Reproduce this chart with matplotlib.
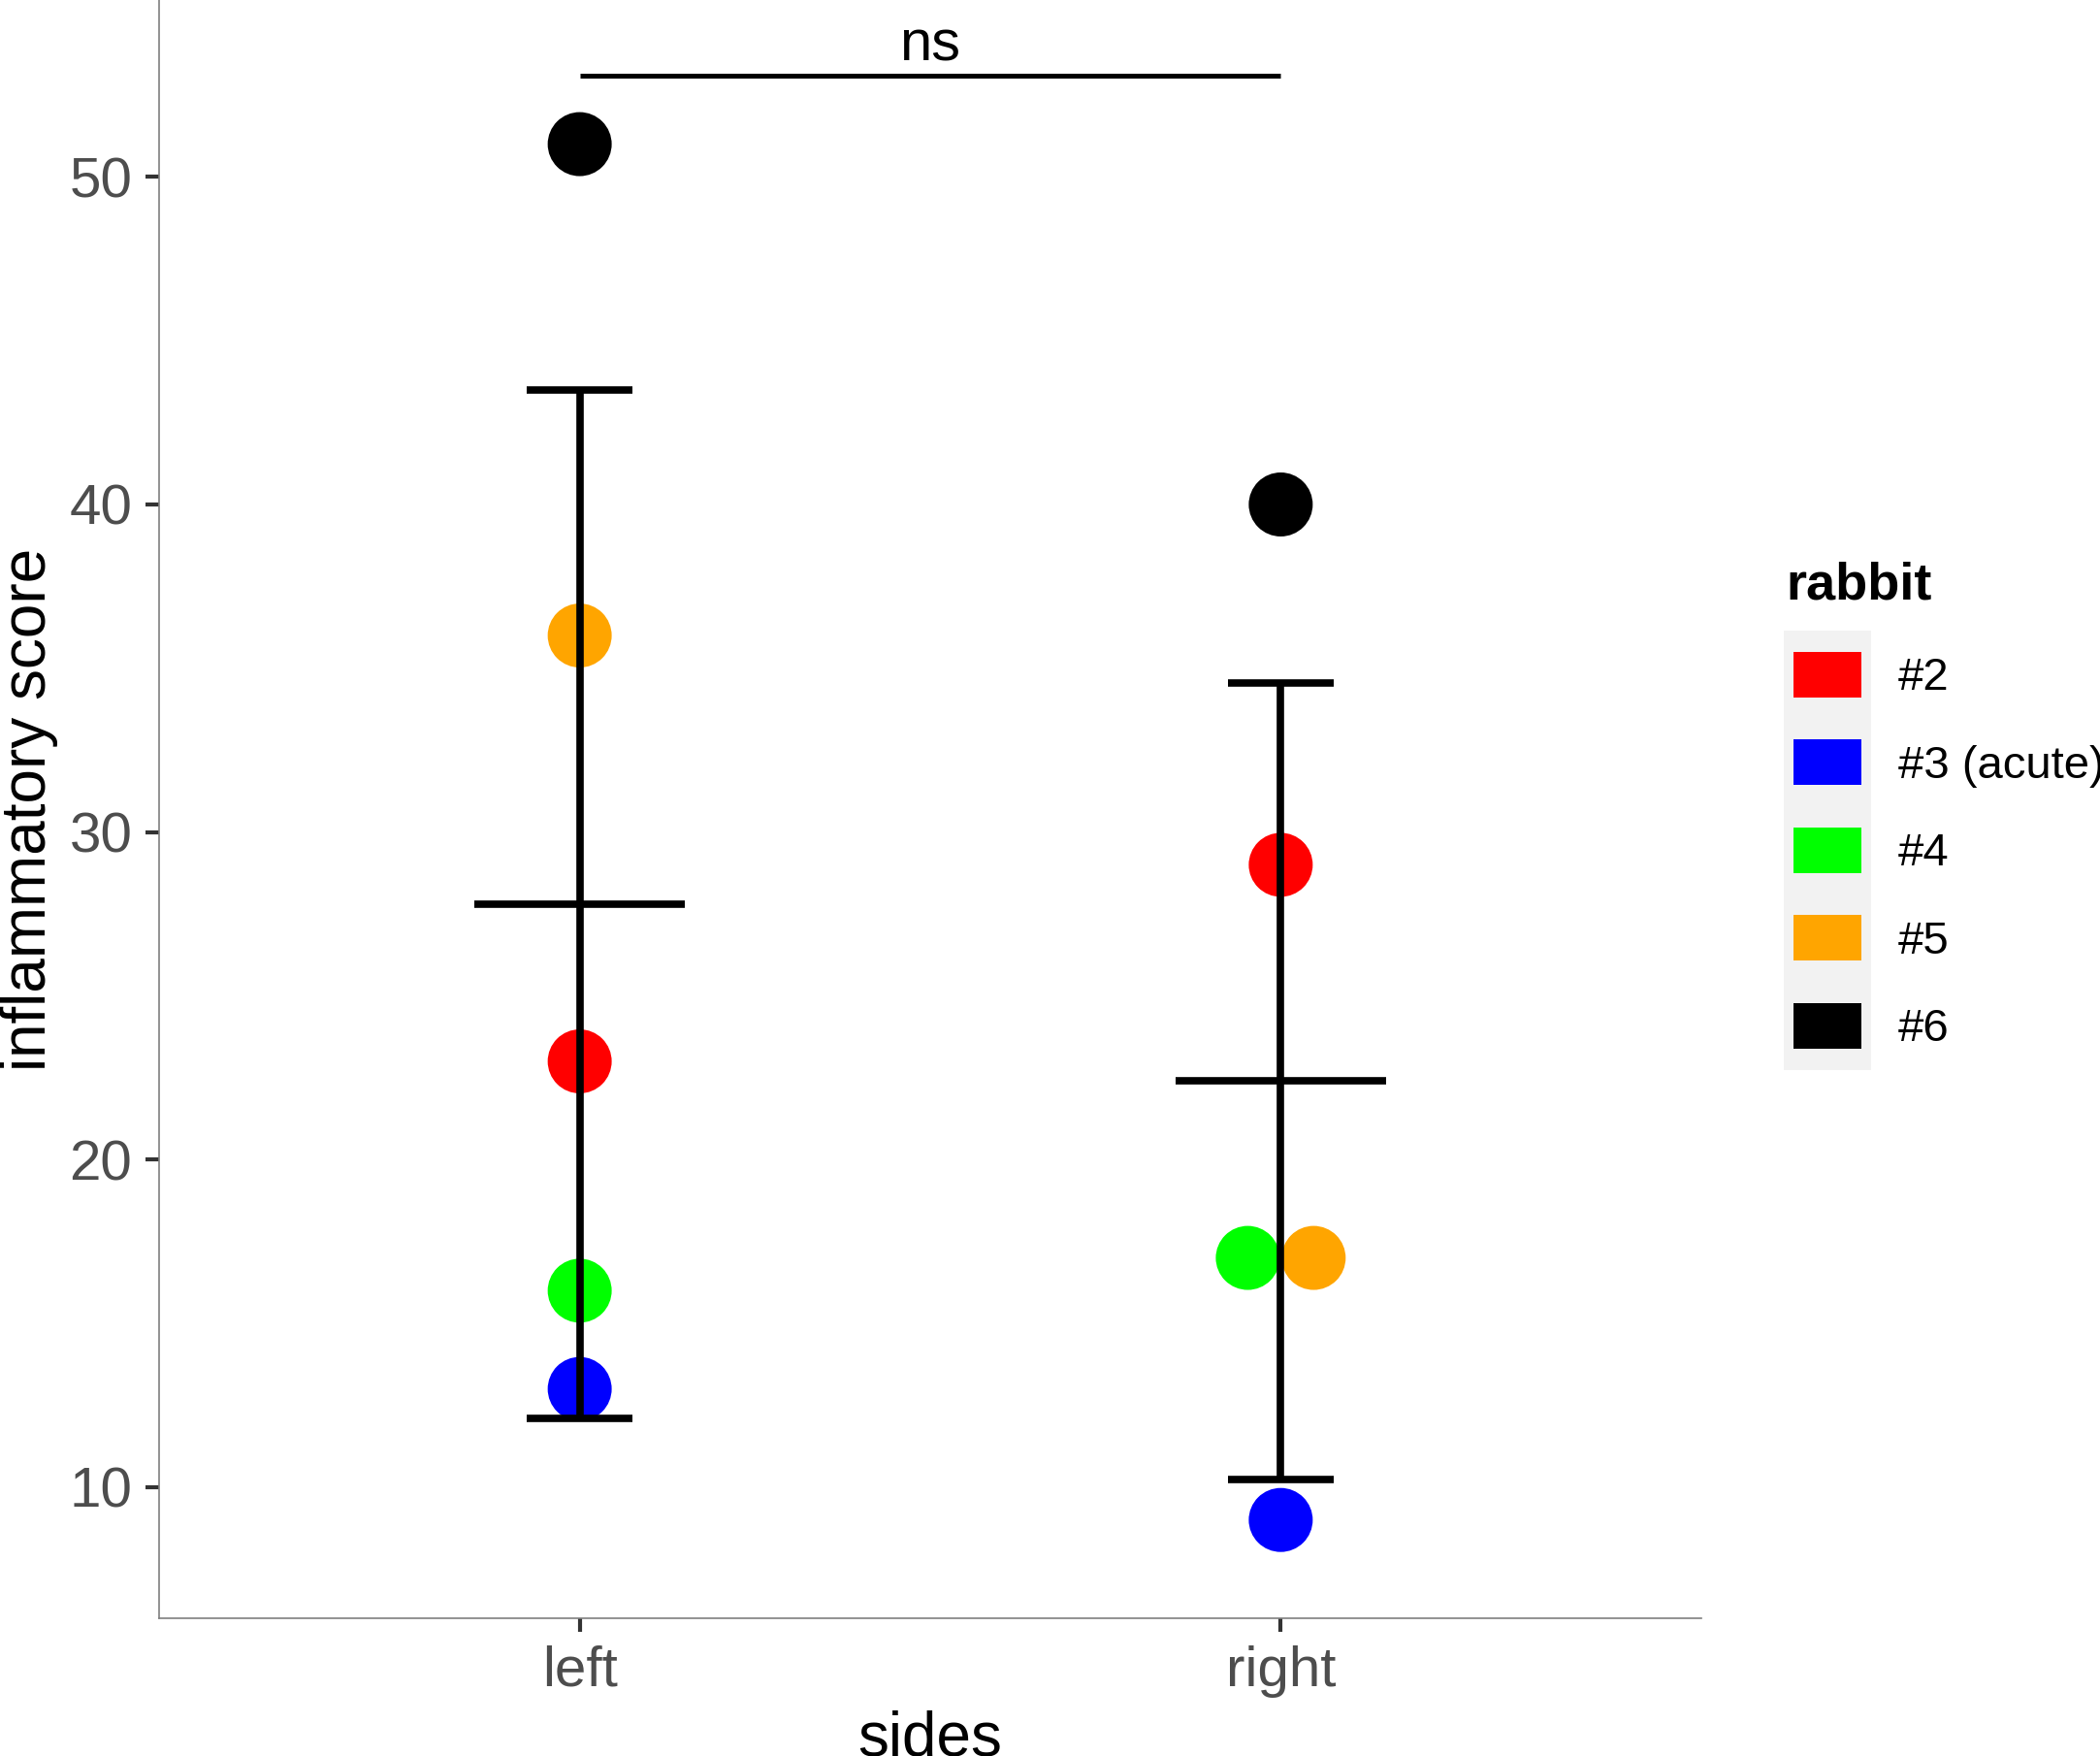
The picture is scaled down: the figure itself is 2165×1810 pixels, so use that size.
import numpy as np
import matplotlib.pyplot as plt
from matplotlib.patches import Rectangle

plt.rcParams['font.family'] = ['Liberation Sans', 'DejaVu Sans']

# data
sides = ['left', 'right']
rabbits = ['#2', '#3 (acute)', '#4', '#5', '#6']
rabbit_colors = ['#FF0000', '#0000FF', '#00FF00', '#FFA500', '#000000']
score_left = [23, 13, 16, 36, 51]
score_right = [29, 9, 17, 17, 40]
# horizontal nudge of overlapping points (right side, #4 and #5)
nudge_left = [0, 0, 0, 0, 0]
nudge_right = [0, 0, -0.047, 0.047, 0]
signif_y = 53.1
signif_label = 'ns'

W, H = 2165, 1810
fig = plt.figure(figsize=(W / 100, H / 100), dpi=100)

def fx(px):
    return px / W

def fy(py):
    return 1 - py / H

ax = fig.add_axes([fx(164), fy(1668), fx(1754) - fx(164), fy(0) - fy(1668)])

scores = [score_left, score_right]
nudges = [nudge_left, nudge_right]

for i, (vals, nud) in enumerate(zip(scores, nudges)):
    xpos = i + 1
    ax.scatter(np.array(nud) + xpos, vals, s=2256, c=rabbit_colors,
               edgecolors='none', zorder=2)
    m = np.mean(vals)
    sd = np.std(vals, ddof=1)
    ax.vlines(xpos, m - sd, m + sd, color='black', lw=5.5, zorder=3)
    ax.hlines([m - sd, m + sd], xpos - 0.075, xpos + 0.075, color='black', lw=5.5, zorder=3)
    ax.hlines(m, xpos - 0.15, xpos + 0.15, color='black', lw=5.5, zorder=3)

# significance bar
ax.plot([1, 2], [signif_y, signif_y], color='black', lw=3.6, solid_capstyle='butt')
ax.text(1.5, signif_y + 0.45, signif_label, ha='center', va='baseline', fontsize=43)

ax.set_xlim(0.4, 2.6)
ax.set_ylim(6.0, 55.4)
ax.set_xticks([1, 2], sides)
ax.set_yticks([10, 20, 30, 40, 50])

for s in ['top', 'right']:
    ax.spines[s].set_visible(False)
for s in ['left', 'bottom']:
    ax.spines[s].set_color('#7F7F7F')
    ax.spines[s].set_linewidth(1.2)
ax.tick_params(length=10, width=3, color='#333333', pad=10,
               labelsize=42, labelcolor='#4D4D4D')

ax.set_xlabel('sides', fontsize=46, labelpad=9)
ax.set_ylabel('inflammatory score', fontsize=46, labelpad=8)

# legend drawn by hand (ggplot style)
fig.text(fx(1841), fy(618), 'rabbit', fontsize=39, fontweight='bold',
         ha='left', va='baseline')
box_top = 650
row_h = 90.5
fig.patches.append(Rectangle((fx(1839), fy(box_top + row_h * len(rabbits))),
                             fx(1929) - fx(1839), row_h * len(rabbits) / H,
                             transform=fig.transFigure, facecolor='#F2F2F2',
                             edgecolor='none', zorder=0))
for k, (lab, col) in enumerate(zip(rabbits, rabbit_colors)):
    cy = box_top + row_h * (k + 0.5)
    fig.patches.append(Rectangle((fx(1849), fy(cy + 23.5)), fx(1919) - fx(1849), 47 / H,
                                 transform=fig.transFigure, facecolor=col,
                                 edgecolor='none', zorder=1))
    fig.text(fx(1957), fy(cy + 4), lab, fontsize=34, ha='left', va='center')

fig.savefig('out.png', dpi=100)
